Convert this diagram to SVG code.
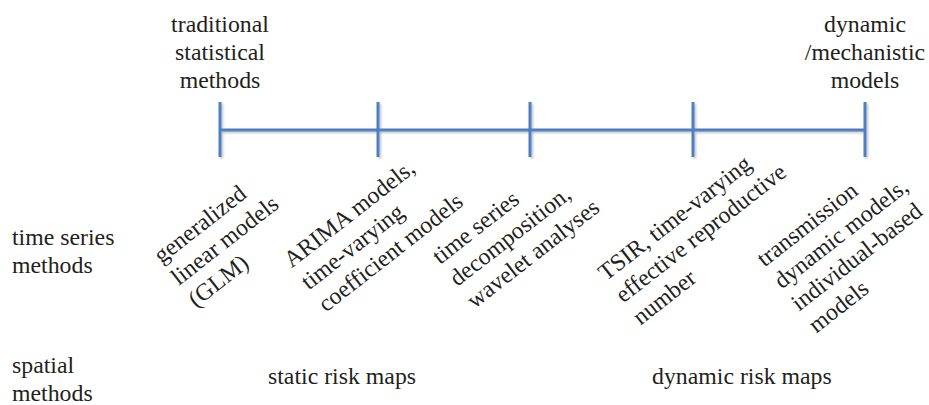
<svg xmlns="http://www.w3.org/2000/svg" width="929" height="405" viewBox="0 0 929 405">
<style>
text{font-family:"Liberation Serif","Times New Roman",serif;font-size:23.8px;fill:#231f20}
.c{text-anchor:middle}
.ax{stroke:#4f7fc0;stroke-width:3;fill:none}
</style>
<defs>
<filter id="sh" x="-5%" y="-20%" width="110%" height="140%">
<feDropShadow dx="1.5" dy="1.5" stdDeviation="1" flood-color="#000" flood-opacity="0.25"/>
</filter>
</defs>
<rect width="929" height="405" fill="#fff"/>
<g id="connectors" filter="url(#sh)">
<line class="ax" x1="220" y1="130" x2="865" y2="130"/>
<line class="ax" x1="220" y1="102" x2="220" y2="157"/>
<line class="ax" x1="378" y1="102" x2="378" y2="157"/>
<line class="ax" x1="530" y1="102" x2="530" y2="157"/>
<line class="ax" x1="693" y1="102" x2="693" y2="157"/>
<line class="ax" x1="865" y1="102" x2="865" y2="157"/>
</g>
<g id="traditional">
<text class="c" x="220" y="31.7">traditional<tspan x="220" y="60">statistical</tspan><tspan x="220" y="88.3">methods</tspan></text>
</g>
<g id="dynamic-mechanistic">
<text class="c" x="865" y="31.7">dynamic<tspan x="865" y="60">/mechanistic</tspan><tspan x="865" y="88.3">models</tspan></text>
</g>
<g id="time-series-label">
<text x="12" y="245">time series<tspan x="12" y="273">methods</tspan></text>
</g>
<g id="spatial-label">
<text x="12" y="373">spatial<tspan x="12" y="401">methods</tspan></text>
</g>
<g id="glm" transform="translate(161.5,264) rotate(-38)">
<text x="0" y="0">generalized<tspan x="0" dy="28">linear models</tspan><tspan x="0" dy="28">(GLM)</tspan></text>
</g>
<g id="arima" transform="translate(291.5,268.5) rotate(-38)">
<text x="0" y="0">ARIMA models,<tspan x="0" dy="28">time-varying</tspan><tspan x="0" dy="28">coefficient models</tspan></text>
</g>
<g id="decomposition" transform="translate(440,265) rotate(-38)">
<text x="0" y="0">time series<tspan x="0" dy="28">decomposition,</tspan><tspan x="0" dy="28">wavelet analyses</tspan></text>
</g>
<g id="tsir" transform="translate(606,281.5) rotate(-38)">
<text x="0" y="0">TSIR, time-varying<tspan x="0" dy="28">effective reproductive</tspan><tspan x="0" dy="28">number</tspan></text>
</g>
<g id="transmission" transform="translate(764.5,267.5) rotate(-38)">
<text x="0" y="0">transmission<tspan x="0" dy="28">dynamic models,</tspan><tspan x="0" dy="28">individual-based</tspan><tspan x="0" dy="28">models</tspan></text>
</g>
<g id="static-maps">
<text x="268" y="384">static risk maps</text>
</g>
<g id="dynamic-maps">
<text x="652" y="384">dynamic risk maps</text>
</g>
</svg>
